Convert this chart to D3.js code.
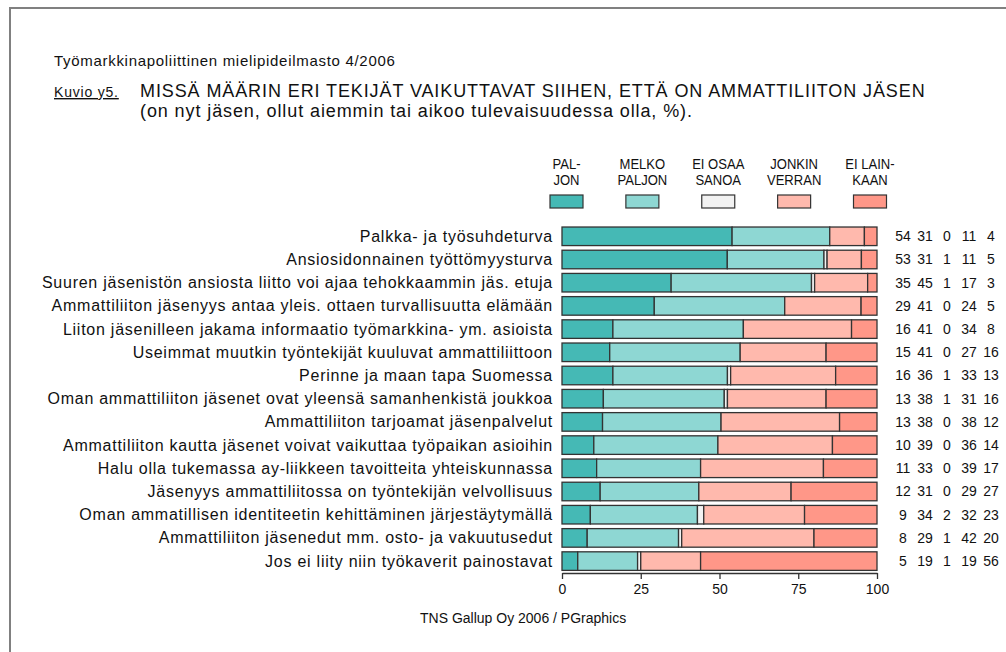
<!DOCTYPE html>
<html lang="fi">

<head>
  <meta charset="utf-8">
  <title>Kuvio y5</title>
  <script type="text/javascript" src="https://cdn.jsdelivr.net/npm/d3@7"></script>
  <style>
    body {
      margin: 0;
      background: #fff;
      font-family: Arial, "Liberation Sans", sans-serif;
    }

    text {
      fill: #111;
    }

    .axis path,
    .axis line {
      fill: none;
      stroke: #333;
      stroke-width: 1.3;
    }

    .axis text {
      font-size: 14px;
      fill: #111;
    }
  </style>
</head>

<body>
</body>
<script>
  // answer categories (legend order)
  var categories = ["paljon", "melko", "eiOsaa", "jonkin", "eiLainkaan"];
  var legendLines = [
    ["PAL-", "JON"],
    ["MELKO", "PALJON"],
    ["EI OSAA", "SANOA"],
    ["JONKIN", "VERRAN"],
    ["EI LAIN-", "KAAN"]
  ];
  var colors = ["#45b9b5", "#8ed7d3", "#f2f2f2", "#ffb9ad", "#ff9788"];

  var items = [
    "Palkka- ja työsuhdeturva",
    "Ansiosidonnainen työttömyysturva",
    "Suuren jäsenistön ansiosta liitto voi ajaa tehokkaammin jäs. etuja",
    "Ammattiliiton jäsenyys antaa yleis. ottaen turvallisuutta elämään",
    "Liiton jäsenilleen jakama informaatio työmarkkina- ym. asioista",
    "Useimmat muutkin työntekijät kuuluvat ammattiliittoon",
    "Perinne ja maan tapa Suomessa",
    "Oman ammattiliiton jäsenet ovat yleensä samanhenkistä joukkoa",
    "Ammattiliiton tarjoamat jäsenpalvelut",
    "Ammattiliiton kautta jäsenet voivat vaikuttaa työpaikan asioihin",
    "Halu olla tukemassa ay-liikkeen tavoitteita yhteiskunnassa",
    "Jäsenyys ammattiliitossa on työntekijän velvollisuus",
    "Oman ammatillisen identiteetin kehittäminen järjestäytymällä",
    "Ammattiliiton jäsenedut mm. osto- ja vakuutusedut",
    "Jos ei liity niin työkaverit painostavat"
  ];

  var paljon = [54, 53, 35, 29, 16, 15, 16, 13, 13, 10, 11, 12, 9, 8, 5];
  var melko = [31, 31, 45, 41, 41, 41, 36, 38, 38, 39, 33, 31, 34, 29, 19];
  var eiOsaa = [0, 1, 1, 0, 0, 0, 1, 1, 0, 0, 0, 0, 2, 1, 1];
  var jonkin = [11, 11, 17, 24, 34, 27, 33, 31, 38, 36, 39, 29, 32, 42, 19];
  var eiLainkaan = [4, 5, 3, 5, 8, 16, 13, 16, 12, 14, 17, 27, 23, 20, 56];

  var xTicks = [0, 25, 50, 75, 100];

  var W = 1006,
    H = 652;

  var svg = d3.select("body")
    .append("svg")
    .attr("width", W)
    .attr("height", H);

  // frame (left and top edge only)
  svg.append("path")
    .attr("d", "M10,652V8H1006")
    .attr("fill", "none")
    .attr("stroke", "#808080")
    .attr("stroke-width", 2);

  // header texts
  svg.append("text")
    .attr("x", 54)
    .attr("y", 66)
    .style("font-size", "15px")
    .style("letter-spacing", "0.7px")
    .text("Työmarkkinapoliittinen mielipideilmasto 4/2006");

  svg.append("text")
    .attr("x", 54)
    .attr("y", 97)
    .style("font-size", "14px")
    .style("letter-spacing", "0.8px")
    .style("text-decoration", "underline")
    .text("Kuvio y5.");

  svg.append("text")
    .attr("x", 140)
    .attr("y", 97)
    .style("font-size", "18px")
    .style("letter-spacing", "0.9px")
    .text("MISSÄ MÄÄRIN ERI TEKIJÄT VAIKUTTAVAT SIIHEN, ETTÄ ON AMMATTILIITON JÄSEN");

  svg.append("text")
    .attr("x", 140)
    .attr("y", 117)
    .style("font-size", "18px")
    .style("letter-spacing", "0.9px")
    .text("(on nyt jäsen, ollut aiemmin tai aikoo tulevaisuudessa olla, %).");

  // scales
  var x = d3.scaleLinear().domain([0, 100]).range([562, 877]);
  var y = d3.scaleBand()
    .domain(items)
    .range([224.7, 572.7])
    .paddingInner(0.2)
    .paddingOuter(0.1);
  var color = d3.scaleOrdinal().domain(categories).range(colors);
  var legendX = d3.scalePoint().domain(categories).range([566.5, 870]);
  var numX = d3.scalePoint().domain(categories).range([903, 991]);

  // build rows, scaled so each bar fills 0..100
  var rows = items.map(function(name, i) {
    var vals = [paljon[i], melko[i], eiOsaa[i], jonkin[i], eiLainkaan[i]];
    var total = d3.sum(vals);
    var acc = 0;
    var segs = vals.map(function(v, j) {
      var s = {
        key: categories[j],
        x0: acc / total * 100,
        x1: (acc + v) / total * 100
      };
      acc += v;
      return s;
    });
    return {
      name: name,
      vals: vals,
      segs: segs
    };
  });

  // legend
  var legend = svg.append("g").selectAll("g")
    .data(categories)
    .enter().append("g")
    .attr("transform", function(d) {
      return "translate(" + legendX(d) + ",0)";
    });

  // legend font is a narrow face in the original
  legend.append("text")
    .attr("text-anchor", "middle")
    .attr("transform", "scale(0.87,1)")
    .style("font-size", "15px")
    .selectAll("tspan")
    .data(function(d, i) {
      return legendLines[i];
    })
    .enter().append("tspan")
    .attr("x", 0)
    .attr("y", function(d, i) {
      return 169 + i * 16;
    })
    .text(function(d) {
      return d;
    });

  legend.append("rect")
    .attr("x", -16.5)
    .attr("y", 195)
    .attr("width", 33)
    .attr("height", 13)
    .attr("fill", function(d) {
      return color(d);
    })
    .attr("stroke", "#333")
    .attr("stroke-width", 1.2);

  // bars
  var row = svg.append("g").selectAll("g")
    .data(rows)
    .enter().append("g")
    .attr("transform", function(d) {
      return "translate(0," + y(d.name) + ")";
    });

  row.selectAll("rect")
    .data(function(d) {
      return d.segs;
    })
    .enter().append("rect")
    .attr("x", function(d) {
      return x(d.x0);
    })
    .attr("width", function(d) {
      return x(d.x1) - x(d.x0);
    })
    .attr("height", y.bandwidth())
    .attr("fill", function(d) {
      return color(d.key);
    })
    .attr("stroke", "#333")
    .attr("stroke-width", 1.3);

  // item labels
  row.append("text")
    .attr("x", x(0) - 9)
    .attr("y", y.bandwidth() / 2)
    .attr("dy", "0.35em")
    .attr("text-anchor", "end")
    .style("font-size", "16px")
    .style("letter-spacing", "0.75px")
    .text(function(d) {
      return d.name;
    });

  // value columns
  row.selectAll(".num")
    .data(function(d) {
      return d.vals;
    })
    .enter().append("text")
    .attr("class", "num")
    .attr("x", function(d, j) {
      return numX(categories[j]);
    })
    .attr("y", y.bandwidth() / 2)
    .attr("dy", "0.35em")
    .attr("text-anchor", "middle")
    .style("font-size", "14px")
    .text(function(d) {
      return d;
    });

  // x axis
  svg.append("g")
    .attr("class", "axis")
    .attr("transform", "translate(0,573)")
    .call(d3.axisBottom(x).tickValues(xTicks).tickSize(6).tickSizeOuter(0).tickPadding(5));

  svg.append("text")
    .attr("x", 420)
    .attr("y", 623)
    .style("font-size", "14px")
    .text("TNS Gallup Oy  2006 / PGraphics");
</script>

</html>
